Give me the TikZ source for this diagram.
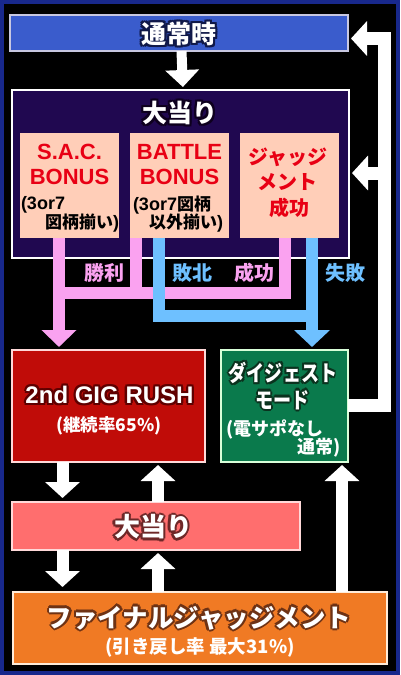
\documentclass[tikz,border=0pt]{standalone}
\usepackage{fontspec}
\usepackage{graphicx}
\usetikzlibrary{arrows.meta,calc}
\newfontfamily\jp{Noto Sans CJK JP}
\newfontfamily\lat{Liberation Sans}
\definecolor{framec}{RGB}{24,40,140}
\definecolor{topblue}{RGB}{58,92,204}
\definecolor{topline}{RGB}{200,200,225}
\definecolor{purp}{RGB}{32,8,80}
\definecolor{peach}{RGB}{255,206,184}
\definecolor{redtxt}{RGB}{232,0,20}
\definecolor{pinkc}{RGB}{250,162,240}
\definecolor{bluec}{RGB}{110,192,255}
\definecolor{gigred}{RGB}{192,12,8}
\definecolor{greenc}{RGB}{10,122,76}
\definecolor{salmon}{RGB}{255,110,110}
\definecolor{orangec}{RGB}{240,122,36}
\definecolor{navyo}{RGB}{16,24,72}
\definecolor{purpo}{RGB}{14,0,30}
\definecolor{redo}{RGB}{95,0,0}
\definecolor{greeno}{RGB}{10,50,30}
\definecolor{salo}{RGB}{110,40,40}
\definecolor{orano}{RGB}{110,50,20}
\newcommand\J[1]{\jp\bfseries\fontsize{#1}{#1}\selectfont}
\newcommand\La[1]{\lat\bfseries\fontsize{#1}{#1}\selectfont}
\newcommand\olt[3][2.3pt]{%
  \leavevmode
  \foreach \olta in {0,45,...,315}{%
    \pgfmathsetlengthmacro\oltx{#1*cos(\olta)}%
    \pgfmathsetlengthmacro\olty{#1*sin(\olta)}%
    \rlap{\kern\oltx\raisebox{\olty}{\textcolor{#2}{#3}}}%
  }%
  #3}
\tikzset{
  blk/.style={inner sep=0pt, outer sep=0pt, line width=1.2pt},
  txt/.style={inner sep=0pt, outer sep=0pt},
  warrow/.style={draw=white, line width=12pt, -{Triangle[width=34pt,length=16pt]}},
  parrow/.style={draw=pinkc, line width=12pt},
  barrow/.style={draw=bluec, line width=12pt},
}
\begin{document}
\begin{tikzpicture}[x=1pt,y=-1pt]
\useasboundingbox (0,0) rectangle (400,675);
\fill[black] (0,0) rectangle (400,675);
\draw[framec, line width=4pt] (2,2) rectangle (398,673);

% boxes
\node[blk, draw=topline, fill=topblue, minimum width=338pt, minimum height=36pt] (normal) at (179,33) {};
\node[blk, draw=white, fill=purp, minimum width=337pt, minimum height=168pt] (big) at (180.5,174) {};
\node[blk, fill=peach, minimum width=99pt, minimum height=105pt] (sac) at (69.5,185.5) {};
\node[blk, fill=peach, minimum width=99pt, minimum height=105pt] (battle) at (179.5,185.5) {};
\node[blk, fill=peach, minimum width=99pt, minimum height=105pt] (judge) at (289.5,185.5) {};
\node[blk, draw=white!85!red, fill=gigred, minimum width=193pt, minimum height=112pt] (gig) at (108.5,406) {};
\node[blk, draw=white!85!green, fill=greenc, minimum width=127pt, minimum height=112pt] (dig) at (284.5,406) {};
\node[blk, draw=white!85!red, fill=salmon, minimum width=288pt, minimum height=48pt] (hit2) at (156,526) {};
\node[blk, draw=white!85!orange, fill=orangec, minimum width=374pt, minimum height=72pt] (final) at (200,628) {};

% texts
\node[txt, text=white] (tNormal) at (179,34) {\J{25}\olt{navyo}{通常時}};
\node[txt, text=white] (tBig) at (180,113) {\J{25}\olt{purpo}{大当り}};
\node[txt, text=redtxt] (tSac1) at (69.5,152) {\La{22}S.A.C.};
\node[txt, text=redtxt] (tSac2) at (69.5,177) {\La{22}BONUS};
\node[txt, text=black, anchor=west] (tSac3) at (21,205) {\La{18}(3or7};
\node[txt, text=black, anchor=east] (tSac4) at (119,223) {\J{17}図柄揃い\La{18})};
\node[txt, text=redtxt] (tBat1) at (179.5,152) {\La{22}BATTLE};
\node[txt, text=redtxt] (tBat2) at (179.5,177) {\La{22}BONUS};
\node[txt, text=black, anchor=west] (tBat3) at (133,205) {\La{18}(3or7\J{17}図柄};
\node[txt, text=black, anchor=east] (tBat4) at (223,223) {\J{17}以外揃い\La{18})};
\node[txt, text=redtxt] (tJud1) at (287.5,157) {\J{20}ジャッジ};
\node[txt, text=redtxt] (tJud2) at (287.5,182) {\J{20}メント};
\node[txt, text=redtxt] (tJud3) at (289.5,208) {\J{20}成功};

% connectors pink
\coordinate (pk) at (59,293);
\draw[parrow] ([xshift=-10.5pt]sac.south) -- (pk);
\draw[parrow] ([xshift=-43.5pt]battle.south) |- (pk);
\draw[parrow, -{Triangle[width=34pt,length=17pt]}, shorten >=3pt] ([xshift=-4.5pt]judge.south) |- (pk) -- ([xshift=-49.5pt]gig.north);
% connectors blue
\coordinate (bk) at (159,316);
\draw[barrow] ([xshift=22.5pt]judge.south) |- (bk);
\draw[barrow, -{Triangle[width=35pt,length=17pt]}, shorten >=3pt] ([xshift=-20.5pt]battle.south) -- (bk) -| ([xshift=27.5pt]dig.north);

% labels
\node[txt, text=pinkc] (lWin) at (104,273) {\J{20}勝利};
\node[txt, text=bluec] (lLose) at (192,273) {\J{20}敗北};
\node[txt, text=pinkc] (lOk) at (254,273) {\J{20}成功};
\node[txt, text=bluec] (lFail) at (345,273) {\J{20}失敗};

% lower texts
\node[txt, text=white] (tGig1) at (109.5,395) {\La{24}\olt{redo}{2nd GIG RUSH}};
\node[txt, text=white] (tGig2) at (109,426) {\J{17.5}(継続率65\%)};
\node[txt, text=white] (tDig1) at (283,373) {\scalebox{0.82}[1]{\J{22}\olt{greeno}{ダイジェスト}}};
\node[txt, text=white] (tDig2) at (282.5,400) {\scalebox{0.82}[1]{\J{22}\olt{greeno}{モード}}};
\node[txt, text=white, anchor=west] (tDig3) at (226,429) {\J{18}(電サポなし};
\node[txt, text=white, anchor=east] (tDig4) at (341,448) {\J{18}通常)};
\node[txt, text=white] (tHit2) at (153,527) {\J{26}\olt{salo}{大当り}};
\node[txt, text=white] (tFin1) at (199,618) {\J{25.5}\olt{orano}{ファイナルジャッジメント}};
\node[txt, text=white] (tFin2) at (200,647) {\J{18.5}(引き戻し率 最大31\%)};

% white arrows
\draw[warrow, line width=10pt, -{Triangle[width=33pt,length=17pt]}, shorten >=3pt] ([xshift=2.5pt]normal.south) -- ([xshift=2.5pt]big.north);
\draw[warrow, shorten >=4pt] ([xshift=-46pt]gig.south) -- ([xshift=-46pt]gig.south |- hit2.north);
\draw[warrow, shorten >=3pt] ([xshift=2pt]hit2.north) -- ([xshift=2pt]hit2.north |- gig.south);
\draw[warrow, shorten >=5pt] ([xshift=-93.5pt]hit2.south) -- ([xshift=-93.5pt]hit2.south |- final.north);
\draw[warrow, shorten >=3pt] ([xshift=-42pt]final.north) -- ([xshift=-42pt]final.north |- hit2.south);
\draw[warrow, shorten >=3pt] ([xshift=142pt]final.north) -- ([xshift=142pt]final.north |- dig.south);
\coordinate (rt) at (384,38.5);
\coordinate (rb) at (384,405);
\coordinate (rm) at (384,173);
\draw[warrow, line width=13pt, shorten >=3pt] (dig.east |- rb) -- (rb) -- (rt) -- (rt -| normal.east);
\draw[warrow, line width=13pt, shorten >=3pt] (rm) -- (rm -| big.east);
\end{tikzpicture}
\end{document}
